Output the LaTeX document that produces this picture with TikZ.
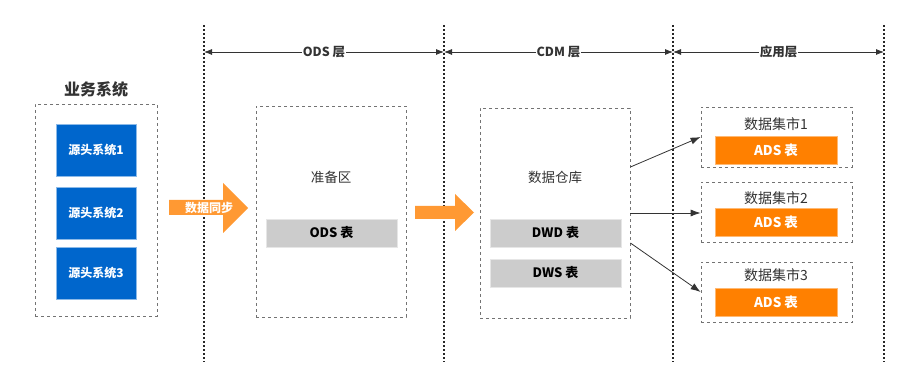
\documentclass[tikz,border=0pt]{standalone}
\usepackage{fontspec}
\setmainfont{Noto Sans CJK SC}
\usetikzlibrary{arrows.meta}
\definecolor{srcblue}{HTML}{0066CC}
\definecolor{syncorange}{HTML}{FF9933}
\definecolor{adsorange}{HTML}{FF8000}
\definecolor{tblgray}{HTML}{CCCCCC}
\definecolor{txtgray}{HTML}{333333}
\newcommand{\fs}[1]{\fontsize{#1}{#1}\selectfont}

\begin{document}
\begin{tikzpicture}[x=1pt, y=-1pt,
    layerline/.style={draw=black!85, line width=1.6pt, dash pattern=on 2pt off 2pt},
    zone/.style={draw=black!55, line width=0.8pt, dash pattern=on 3pt off 3pt,
      rectangle, inner sep=0pt},
    srcbox/.style={rectangle, fill=srcblue, draw=srcblue!45!white, line width=0.6pt,
      minimum width=80pt, minimum height=52pt, inner sep=0pt,
      text=white, font=\bfseries\fs{12}},
    tblbox/.style={rectangle, fill=tblgray, draw=tblgray!50!white, line width=0.6pt,
      minimum width=131pt, minimum height=28pt, inner sep=0pt,
      text=black, font=\bfseries\fs{13}},
    adsbox/.style={rectangle, fill=adsorange, draw=adsorange!55!white, line width=0.6pt,
      minimum width=122pt, minimum height=28pt, inner sep=0pt,
      text=white, font=\bfseries\fs{13.5}},
    zonetitle/.style={text=txtgray, font=\fs{13.5}, inner sep=0pt},
    span/.style={{Latex[length=8pt,width=6pt]}-{Latex[length=8pt,width=6pt]},
      draw=txtgray, line width=0.8pt},
    spanlabel/.style={fill=white, inner sep=1pt, text=txtgray, font=\bfseries\fs{12.5}},
    feed/.style={-{Latex[length=10pt,width=7pt]}, draw=txtgray, line width=0.8pt},
    bigarrow/.style={fill=syncorange, draw=none},
]
\useasboundingbox (0,0) rectangle (908,390);

% layer separators
\foreach \x/\nm in {204/sepA, 444/sepB, 673/sepC, 884/sepD} {
  \coordinate (\nm-top) at (\x,25);
  \coordinate (\nm-mid) at (\x,52);
  \draw[layerline] (\nm-top) -- (\x,362);
}

% layer spans
\draw[span] (sepA-mid) -- (sepB-mid) node[spanlabel, midway] {ODS 层};
\draw[span] (sepB-mid) -- (sepC-mid) node[spanlabel, midway] {CDM 层};
\draw[span] (sepC-mid) -- (sepD-mid) node[spanlabel, midway] {应用层};

% business systems
\node[text=txtgray, font=\bfseries\fs{16}] (biztitle) at (96,89) {业务系统};
\node[zone, minimum width=122pt, minimum height=212pt] (biz) at (96,210) {};
\node[srcbox] (src1) at (96,150) {源头系统1};
\node[srcbox] (src2) at (96,213) {源头系统2};
\node[srcbox] (src3) at (96,273) {源头系统3};

% sync arrow
\fill[bigarrow] (169,200) -- (223,200) -- (223,183) -- (248,208)
  -- (223,233) -- (223,215) -- (169,215) -- cycle;
\node[text=white, font=\bfseries\fs{12}] (synclabel) at (209,208) {数据同步};

% ODS zone
\node[zone, minimum width=150pt, minimum height=211pt] (ods) at (331,211.5) {};
\node[zonetitle] (odstitle) at (331,177) {准备区};
\node[tblbox] (odstbl) at (331.5,233) {ODS 表};

% load arrow
\fill[bigarrow] (415,206) -- (455,206) -- (455,194) -- (474,212.5)
  -- (455,231) -- (455,219) -- (415,219) -- cycle;

% CDM zone
\node[zone, minimum width=150pt, minimum height=210pt] (cdm) at (555,213) {};
\node[zonetitle] (cdmtitle) at (555,177) {数据仓库};
\node[tblbox] (dwd) at (555.5,233) {DWD 表};
\node[tblbox] (dws) at (555.5,273) {DWS 表};

% data marts
\foreach \i/\zy/\ty/\ay in {1/137/124/150, 2/212/198/222, 3/292.5/275/302} {
  \node[zone, minimum width=151pt, minimum height=60pt] (mart\i) at (776.5,\zy) {};
  \node[zonetitle, font=\fs{14}] (mart\i-title) at (776,\ty) {数据集市\i};
  \node[adsbox] (ads\i) at (776,\ay) {ADS 表};
}

% feeds into the marts
\coordinate (feed1) at (cdm.east |- 0,167);
\coordinate (feed2) at (cdm.east |- 0,213);
\coordinate (feed3) at (cdm.east |- 0,243);
\draw[feed] (feed1) -- (mart1.west |- 0,137);
\draw[feed] (feed2) -- (mart2.west |- 0,213);
\draw[feed] (feed3) -- (mart3.west |- 0,292);

\end{tikzpicture}
\end{document}
